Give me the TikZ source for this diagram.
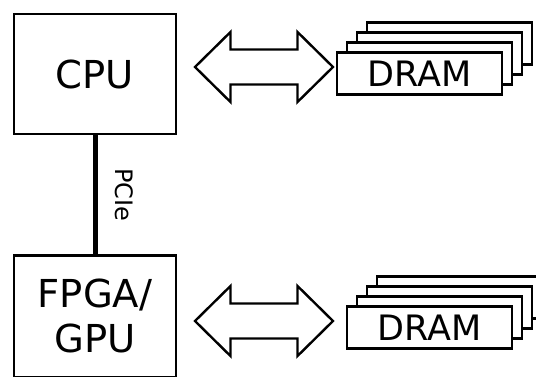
\documentclass[tikz,border=0pt]{standalone}
\usepackage{fontspec}
\setmainfont{DejaVu Sans}
\begin{document}
\begin{tikzpicture}[x=1pt,y=-1pt,
  box/.style={draw,line width=2.8pt,fill=white,inner sep=0pt},
  proc/.style={box,minimum width=162pt,minimum height=120pt,font=\fontsize{38.5}{45}\selectfont,align=center},
  memcard/.style={box,minimum width=165pt,minimum height=41.5pt,font=\fontsize{35}{40}\selectfont},
  bus/.style={line width=5pt},
  biarrow/.style={draw,line width=2.4pt,line join=miter,fill=white},
  dblarrow/.pic={\path[biarrow] (-69,0) -- (-33.5,-35) -- (-33.5,-17.5) -- (33.5,-17.5) -- (33.5,-35) -- (69,0) -- (33.5,35) -- (33.5,17.5) -- (-33.5,17.5) -- (-33.5,35) -- cycle;}]
\useasboundingbox (0,0) rectangle (536,376);
\clip (0,0) rectangle (536,376);

% processors
\node[proc] (cpu) at (95,74) {\raisebox{-5pt}{CPU}};
\node[proc,minimum height=122pt] (fpga) at (95,316.3) {FPGA/\\GPU};

% PCIe bus
\draw[bus] (cpu.south) -- (fpga.north)
  node[pos=0.5,xshift=29pt,rotate=-90,font=\fontsize{24}{28}\selectfont] (pcie) {PCIe};

% top DRAM stack
\node[memcard] (d14) at (449.5,43.5) {};
\node[memcard] (d13) at (439.5,53.5) {};
\node[memcard] (d12) at (429.5,63.5) {};
\node[memcard] (d11) at (419.5,73.5) {\raisebox{-2pt}{DRAM}};

% bottom DRAM stack
\node[memcard] (d24) at (459.5,297.5) {};
\node[memcard] (d23) at (449.5,307.5) {};
\node[memcard] (d22) at (439.5,317.5) {};
\node[memcard] (d21) at (429.5,327.5) {\raisebox{-2pt}{DRAM}};

% double arrows
\coordinate (a1) at (264,67);
\coordinate (a2) at (264,321);
\pic at (a1) {dblarrow};
\pic at (a2) {dblarrow};
\end{tikzpicture}
\end{document}
